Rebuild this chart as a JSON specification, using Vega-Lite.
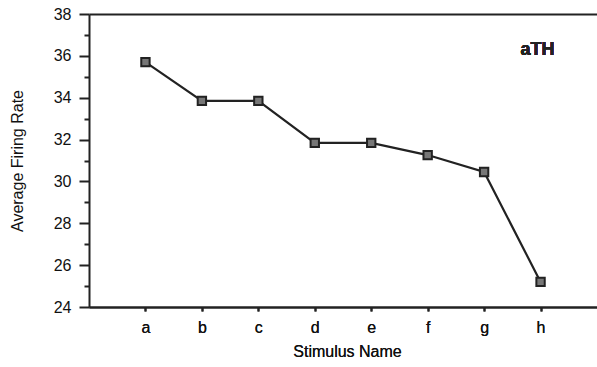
{
  "$schema": "https://vega.github.io/schema/vega-lite/v6.json",
  "width": 508,
  "height": 293,
  "autosize": {"type": "none"},
  "padding": {"left": 89, "top": 14, "right": 0, "bottom": 60},
  "background": "white",
  "config": {
    "view": {"stroke": null},
    "font": "Liberation Sans",
    "axis": {"labelFont": "Liberation Sans", "titleFont": "Liberation Sans", "labelColor": "#111", "titleColor": "#111", "domainColor": "#222", "tickColor": "#222", "grid": false}
  },
  "data": {
    "values": [
      {"stimulus": "a", "rate": 35.7},
      {"stimulus": "b", "rate": 33.85},
      {"stimulus": "c", "rate": 33.85},
      {"stimulus": "d", "rate": 31.84},
      {"stimulus": "e", "rate": 31.84},
      {"stimulus": "f", "rate": 31.26},
      {"stimulus": "g", "rate": 30.45},
      {"stimulus": "h", "rate": 25.2}
    ]
  },
  "encoding": {
    "x": {
      "field": "stimulus", "type": "ordinal",
      "scale": {"type": "point", "padding": 1},
      "axis": {
        "title": "Stimulus Name", "labelAngle": 0, "labelFontSize": 16, "titleFontSize": 16, "titleFontWeight": "normal",
        "domainWidth": 2, "tickSize": 4, "tickWidth": 2, "labelPadding": 8, "titlePadding": 8, "titleX": 258
      }
    },
    "y": {
      "field": "rate", "type": "quantitative",
      "scale": {"domain": [24, 38], "nice": false, "zero": false},
      "axis": {
        "title": "Average Firing Rate", "values": [24,25,26,27,28,29,30,31,32,33,34,35,36,37,38],
        "labelExpr": "datum.value % 2 === 0 ? datum.label : ''",
        "tickSize": {"condition": {"test": "datum.value % 2 === 1", "value": 5}, "value": 10},
        "tickWidth": 2, "domainWidth": 2, "labelFontSize": 16, "titleFontSize": 16, "titleFontWeight": "normal",
        "labelPadding": 8, "titlePadding": 28
      }
    }
  },
  "resolve": {"axis": {"x": "independent"}},
  "layer": [
    {"mark": {"type": "line", "color": "#222", "strokeWidth": 2.2}},
    {
      "mark": {"type": "point", "shape": "square", "size": 70, "filled": true, "fill": "#777", "stroke": "#222", "strokeWidth": 2, "opacity": 1},
      "encoding": {
        "x": {
          "field": "stimulus", "type": "ordinal",
          "scale": {"type": "point", "padding": 1},
          "axis": {"orient": "top", "labels": false, "ticks": false, "title": null, "domainWidth": 2, "domainColor": "#222"}
        }
      }
    },
    {
      "mark": {"type": "text", "text": "aTH", "fontSize": 18, "fontWeight": "bold", "fill": "#222", "align": "right", "baseline": "middle", "dx": 14},
      "encoding": {"x": {"datum": "h"}, "y": {"datum": 36.3}}
    }
  ]
}
